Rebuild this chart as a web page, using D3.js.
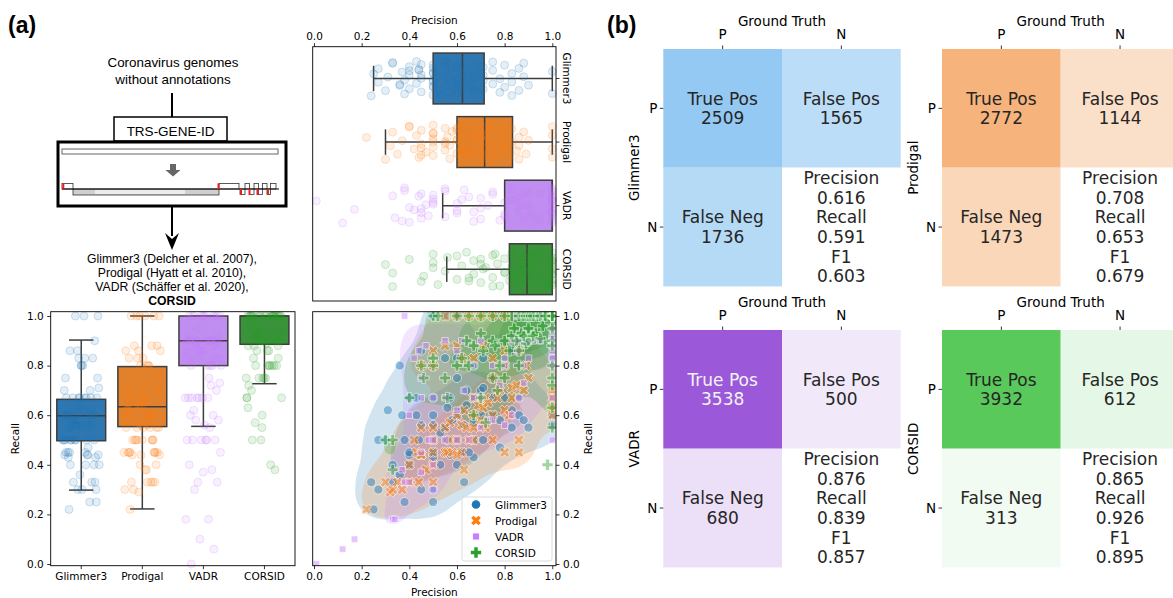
<!DOCTYPE html>
<html>
<head>
<meta charset="utf-8">
<script src="https://cdn.jsdelivr.net/npm/d3@7"></script>
<style>
body { margin: 0; background: #fff; }
svg { display: block; }
text { font-family: "DejaVu Sans", sans-serif; fill: #000; }
.arial { font-family: "Liberation Sans", Arial, sans-serif; }
</style>
</head>
<body>
<div id="fig"></div>
<script>
/////// DATA

const methods = ["Glimmer3", "Prodigal", "VADR", "CORSID"];
const hueColors = ["#1f77b4", "#ff7f0e", "#c77dff", "#2ca02c"];
const boxColors = ["#2f77b1", "#e1812c", "#c08ef0", "#3a923a"];

// box stats: [lower whisker, q1, median, q3, upper whisker]
const precisionBox = [
  [0.25, 0.50, 0.623, 0.714, 1.0],
  [0.30, 0.60, 0.716, 0.833, 1.0],
  [0.54, 0.80, 1.0, 1.0, 1.0],
  [0.557, 0.82, 0.894, 1.0, 1.0]
];
const recallBox = [
  [0.298, 0.497, 0.598, 0.664, 0.903],
  [0.222, 0.554, 0.634, 0.796, 1.0],
  [0.555, 0.80, 0.90, 1.0, 1.0],
  [0.727, 0.886, 1.0, 1.0, 1.0]
];

// [precision, recall] per genome
const glimmerPts = [
  [0.25,0.22],[0.24,0.33],[0.27,0.30],[0.27,0.50],[0.30,0.50],[0.31,0.62],[0.33,0.33],[0.36,0.80],
  [0.37,0.60],[0.38,0.25],[0.38,0.50],[0.40,0.44],[0.40,0.67],[0.40,0.40],[0.43,0.60],[0.43,0.67],
  [0.44,0.50],[0.45,0.44],[0.45,0.56],[0.50,0.25],[0.50,0.56],[0.50,0.43],[0.50,0.67],[0.50,0.60],
  [0.50,0.50],[0.53,0.40],[0.55,0.55],[0.56,0.50],[0.56,0.63],[0.57,0.67],[0.60,0.60],[0.60,0.50],
  [0.60,0.75],[0.62,0.62],[0.62,0.45],[0.63,0.56],[0.64,0.64],[0.64,0.70],[0.67,0.57],[0.67,0.67],
  [0.67,0.43],[0.67,0.80],[0.70,0.60],[0.70,0.70],[0.71,0.56],[0.71,0.71],[0.71,0.83],[0.71,0.50],
  [0.75,0.60],[0.75,0.67],[0.75,0.75],[0.78,0.47],[0.78,0.58],[0.80,0.67],[0.80,0.80],[0.83,0.55],
  [0.83,0.62],[0.83,0.86],[0.86,0.60],[0.86,0.67],[0.88,0.58],[0.88,0.90],[0.90,0.55],[1.0,0.60],
  [1.0,0.56],[0.50,1.0],[0.55,1.0],[0.60,1.0],[0.45,0.86],[0.55,0.83],[0.60,0.83],[0.44,0.44],
  [0.57,0.44],[0.63,0.33],[0.45,0.30],[0.50,0.30],[0.50,0.45],[0.53,0.53],[0.58,0.58],[0.60,0.40],
  [0.65,0.45],[0.67,0.50],[0.33,0.40],[0.36,0.36],[0.40,0.45]
];
const prodigalPts = [
  [0.22,0.22],[0.30,0.33],[0.32,0.29],[0.33,0.30],[0.35,0.33],[0.37,0.30],[0.40,0.40],[0.42,0.50],
  [0.43,0.45],[0.44,0.33],[0.45,0.55],[0.45,0.44],[0.47,0.38],[0.50,0.33],[0.50,0.45],[0.50,0.40],
  [0.50,0.55],[0.50,0.80],[0.50,0.50],[0.55,0.45],[0.55,0.55],[0.56,0.45],[0.57,0.50],[0.57,0.57],
  [0.58,0.45],[0.60,0.60],[0.60,0.50],[0.62,0.45],[0.62,0.56],[0.63,0.62],[0.64,0.55],[0.65,0.50],
  [0.67,0.55],[0.67,0.67],[0.67,0.60],[0.67,0.50],[0.69,0.64],[0.70,0.58],[0.71,0.56],[0.71,0.63],
  [0.72,0.55],[0.72,0.67],[0.73,0.65],[0.75,0.60],[0.75,0.50],[0.75,0.75],[0.77,0.67],[0.78,0.70],
  [0.80,0.45],[0.80,0.80],[0.80,0.62],[0.82,0.60],[0.83,0.67],[0.83,0.71],[0.85,0.72],[0.86,0.45],
  [0.86,0.50],[0.86,0.86],[0.88,0.70],[0.89,0.80],[0.90,0.75],[1.0,0.70],[1.0,0.63],[1.0,0.67],
  [1.0,0.60],[0.55,1.0],[0.60,1.0],[0.65,1.0],[0.70,1.0],[0.75,1.0],[0.80,1.0],[0.50,0.86],
  [0.45,0.80],[0.55,0.88],[0.60,0.88],[0.62,0.83],[0.67,0.83],[0.71,0.88],[0.75,0.83],[0.80,0.86],
  [0.63,0.38],[0.60,0.44],[0.40,0.33],[0.45,0.44]
];
const vadrPts = [
  [0.01,0.0],[0.12,0.06],[0.17,0.10],[0.33,0.18],[0.34,0.18],[0.50,0.30],[0.38,0.33],[0.45,0.37],
  [0.50,0.40],[0.37,0.38],[0.40,0.33],[0.45,0.45],[0.48,0.50],[0.50,0.50],[0.55,0.50],[0.60,0.50],
  [0.65,0.50],[0.70,0.55],[0.73,0.58],[0.75,0.58],[0.80,0.56],[0.83,0.60],[0.40,0.60],[0.45,0.67],
  [0.50,0.67],[0.55,0.67],[0.60,0.62],[0.63,0.70],[0.67,0.67],[0.70,0.67],[0.78,0.72],[0.86,0.67],
  [0.88,0.73],[1.0,0.50],[1.0,0.67],[0.38,1.0],[0.42,0.83],[0.44,0.86],[0.45,0.75],[0.47,0.88],
  [0.55,0.90],[0.60,0.86],[0.62,0.90],[0.67,0.80],[0.70,0.90],[0.75,0.80],[0.80,0.80],[0.80,0.83],
  [0.83,0.90],[0.86,0.86],[0.86,0.90],[0.88,0.80],[0.90,0.90],[0.90,0.83],[0.92,0.90],[1.0,0.80],
  [1.0,0.83],[1.0,0.86],[1.0,0.90],[1.0,0.90],[1.0,1.0],[1.0,1.0],[1.0,1.0],[1.0,1.0],
  [1.0,0.90],[1.0,0.95],[0.95,1.0],[0.90,1.0],[0.85,1.0],[1.0,0.88],[1.0,1.0],[1.0,0.83],
  [0.95,0.90],[0.89,0.89],[1.0,0.92],[1.0,1.0],[1.0,0.91],[0.93,1.0]
];
const corsidPts = [
  [0.30,0.50],[0.33,0.38],[0.33,0.50],[0.40,0.67],[0.45,0.80],[0.50,0.80],[0.50,0.83],[0.46,0.75],
  [0.50,1.0],[0.52,1.0],[0.55,0.75],[0.56,0.67],[0.60,0.80],[0.62,0.83],[0.64,0.90],[0.67,0.60],
  [0.67,0.88],[0.70,0.93],[0.71,0.86],[0.75,0.90],[0.75,0.75],[0.77,0.70],[0.78,0.80],[0.80,0.90],
  [0.80,0.75],[0.82,0.86],[0.83,0.92],[0.83,1.0],[0.85,0.90],[0.86,1.0],[0.86,0.80],[0.87,0.93],
  [0.88,1.0],[0.89,0.89],[0.89,1.0],[0.90,1.0],[0.90,0.90],[0.91,1.0],[0.92,1.0],[0.93,0.93],
  [0.94,1.0],[0.95,1.0],[1.0,1.0],[1.0,1.0],[1.0,1.0],[1.0,0.95],[1.0,0.90],[1.0,0.88],
  [1.0,0.80],[1.0,0.75],[1.0,0.72],[1.0,1.0],[1.0,1.0],[0.60,1.0],[0.65,1.0],[0.70,1.0],
  [0.75,1.0],[0.80,1.0],[0.70,0.67],[0.65,0.80],[0.72,0.57],[0.76,0.88],[0.84,0.95],[0.96,0.96],
  [0.97,1.0],[0.88,0.92],[0.92,0.92],[0.86,0.86],[0.90,0.95],[0.95,0.91],[1.0,0.55],[1.0,0.63],
  [0.98,0.40]
];
const allPts = [glimmerPts, prodigalPts, vadrPts, corsidPts];

// confusion matrices (panel b)
const truePos = [2509, 2772, 3538, 3932];
const falsePos = [1565, 1144, 500, 612];
const falseNeg = [1736, 1473, 680, 313];
const precisionVals = [0.616, 0.708, 0.876, 0.865];
const recallVals = [0.591, 0.653, 0.839, 0.926];
const f1Vals = [0.603, 0.679, 0.857, 0.895];
const cmColors = ["#93c9f2", "#f6b47c", "#9b59da", "#5ac95c"];
const cmLabels = ["P", "N"];

const toolLines = [
  ["Glimmer3 (Delcher et al. 2007),", false],
  ["Prodigal  (Hyatt et al. 2010),", false],
  ["VADR (Schäffer et al. 2020),", false],
  ["CORSID", true]
];

/////// SETUP

const W = 1173, H = 598;
const svg = d3.select("#fig").append("svg").attr("width", W).attr("height", H);
svg.append("rect").attr("width", W).attr("height", H).attr("fill", "#fff");

const fmt1 = d3.format(".1f");
const fmt3 = d3.format(".3f");
const tickVals = [0, 0.2, 0.4, 0.6, 0.8, 1.0];
const jit = i => ((i * 0.6180339887 + 0.37) % 1) * 2 - 1; // spread in [-1, 1]
const edge = "#3d3d3d";

function styleAxis(g, size) {
  g.select(".domain").remove();
  g.selectAll(".tick line").attr("stroke", "#000").attr("stroke-width", 0.8);
  g.selectAll(".tick text").attr("font-size", size).attr("font-family", "DejaVu Sans").attr("fill", "#000");
}
function frame(r) {
  svg.append("rect").attr("x", r.l).attr("y", r.t).attr("width", r.r - r.l).attr("height", r.b - r.t)
    .attr("fill", "none").attr("stroke", "#000").attr("stroke-width", 0.9);
}

/////// PANEL (a) DIAGRAM

svg.append("text").attr("class", "arial").attr("x", 8).attr("y", 33)
  .attr("font-size", 23).attr("font-weight", "bold").text("(a)");

const dg = svg.append("g");
dg.append("text").attr("class", "arial").attr("x", 173).attr("y", 67).attr("text-anchor", "middle")
  .attr("font-size", 13.4).text("Coronavirus genomes");
dg.append("text").attr("class", "arial").attr("x", 173).attr("y", 84).attr("text-anchor", "middle")
  .attr("font-size", 13.4).text("without annotations");
dg.append("line").attr("x1", 172).attr("x2", 172).attr("y1", 93).attr("y2", 117)
  .attr("stroke", "#000").attr("stroke-width", 2);
dg.append("rect").attr("x", 114).attr("y", 117).attr("width", 113).attr("height", 24)
  .attr("fill", "#fff").attr("stroke", "#000").attr("stroke-width", 1.5);
dg.append("text").attr("class", "arial").attr("x", 170.5).attr("y", 136).attr("text-anchor", "middle")
  .attr("font-size", 13.5).text("TRS-GENE-ID");
dg.append("rect").attr("x", 58).attr("y", 142).attr("width", 228).attr("height", 64)
  .attr("fill", "#fff").attr("stroke", "#000").attr("stroke-width", 3);
dg.append("rect").attr("x", 62).attr("y", 149).attr("width", 216).attr("height", 5)
  .attr("fill", "#fff").attr("stroke", "#666").attr("stroke-width", 1);
dg.append("rect").attr("x", 170).attr("y", 164).attr("width", 6).attr("height", 6).attr("fill", "#666");
dg.append("path").attr("d", "M165.5,170 L180.5,170 L173,176.5 Z").attr("fill", "#666");
// genome features
dg.append("rect").attr("x", 73).attr("y", 189).attr("width", 146).attr("height", 6)
  .attr("fill", "#cfcfcf").attr("stroke", "#333").attr("stroke-width", 0.8);
dg.append("rect").attr("x", 95).attr("y", 190).attr("width", 90).attr("height", 4).attr("fill", "#ececec");
const upperBoxes = [[62, 73], [219, 239], [245, 249.5], [254, 258.5], [262.5, 267], [270.5, 276]];
const lowerBoxes = [[240, 245], [249.5, 254], [258.5, 262.5], [267, 270.5]];
upperBoxes.forEach(b => dg.append("rect").attr("x", b[0]).attr("y", 183.5).attr("width", b[1] - b[0])
  .attr("height", 5.5).attr("fill", "#fff").attr("stroke", "#333").attr("stroke-width", 0.8));
lowerBoxes.forEach(b => dg.append("rect").attr("x", b[0]).attr("y", 189).attr("width", b[1] - b[0])
  .attr("height", 5.5).attr("fill", "#fff").attr("stroke", "#333").attr("stroke-width", 0.8));
dg.append("line").attr("x1", 62).attr("x2", 279).attr("y1", 189).attr("y2", 189)
  .attr("stroke", "#000").attr("stroke-width", 1);
[[62.3, 183.5], [217.5, 183.5], [240, 189], [248.5, 189], [256.5, 189], [267, 189]].forEach(r =>
  dg.append("rect").attr("x", r[0]).attr("y", r[1]).attr("width", 2).attr("height", 6).attr("fill", "#e8221a"));
dg.append("line").attr("x1", 172).attr("x2", 172).attr("y1", 207).attr("y2", 236)
  .attr("stroke", "#000").attr("stroke-width", 2);
dg.append("path").attr("d", "M165,233 L172,239 L179,233 L172,250 Z").attr("fill", "#000");
toolLines.forEach((t, k) => {
  dg.append("text").attr("class", "arial").attr("x", 172).attr("y", 262.5 + k * 14.2)
    .attr("text-anchor", "middle").attr("font-size", 12.2)
    .attr("font-weight", t[1] ? "bold" : "normal").text(t[0]);
});

/////// TOP RIGHT: PRECISION BOXPLOT

const pr = { l: 312.7, r: 556, t: 46.7, b: 301 };
const px = d3.scaleLinear().domain([0, 1]).range([314, 552.3]);
const pBand = d3.scaleBand().domain(methods).range([pr.t, pr.b]);
const gP = svg.append("g");

methods.forEach((m, i) => {
  const s = precisionBox[i], c = pBand(m) + pBand.bandwidth() / 2, bw = pBand.bandwidth() * 0.8;
  const ln = (x1, x2, y1, y2) => gP.append("line").attr("x1", x1).attr("x2", x2).attr("y1", y1).attr("y2", y2)
    .attr("stroke", edge).attr("stroke-width", 1.5);
  ln(px(s[0]), px(s[1]), c, c);
  ln(px(s[3]), px(s[4]), c, c);
  ln(px(s[0]), px(s[0]), c - bw / 4, c + bw / 4);
  ln(px(s[4]), px(s[4]), c - bw / 4, c + bw / 4);
  gP.append("rect").attr("x", px(s[1])).attr("y", c - bw / 2).attr("width", px(s[3]) - px(s[1]))
    .attr("height", bw).attr("fill", boxColors[i]).attr("stroke", edge).attr("stroke-width", 1.5);
  ln(px(s[2]), px(s[2]), c - bw / 2, c + bw / 2);
  gP.selectAll(null).data(allPts[i]).join("circle")
    .attr("cx", d => px(d[0]))
    .attr("cy", (d, j) => c + jit(j) * pBand.bandwidth() * 0.28)
    .attr("r", 4)
    .attr("fill", hueColors[i]).attr("fill-opacity", 0.12)
    .attr("stroke", hueColors[i]).attr("stroke-opacity", 0.25).attr("stroke-width", 0.8);
});
frame(pr);
const axPTop = svg.append("g").attr("transform", `translate(0,${pr.t})`)
  .call(d3.axisTop(px).tickValues(tickVals).tickFormat(fmt1).tickSize(3.5).tickPadding(3.5));
styleAxis(axPTop, 10.5);
svg.append("text").attr("x", (pr.l + pr.r) / 2).attr("y", 24).attr("text-anchor", "middle")
  .attr("font-size", 10.5).text("Precision");
methods.forEach(m => {
  const c = pBand(m) + pBand.bandwidth() / 2;
  svg.append("line").attr("x1", pr.r).attr("x2", pr.r + 3.5).attr("y1", c).attr("y2", c)
    .attr("stroke", "#000").attr("stroke-width", 0.8);
  svg.append("text").attr("transform", `translate(${pr.r + 7},${c}) rotate(90)`)
    .attr("text-anchor", "middle").attr("font-size", 10.5).text(m);
});

/////// BOTTOM LEFT: RECALL BOXPLOT

const rr = { l: 50.7, r: 295, t: 311.7, b: 565.7 };
const ry = d3.scaleLinear().domain([0, 1]).range([564, 316]);
const rBand = d3.scaleBand().domain(methods).range([rr.l, rr.r]);
const gR = svg.append("g");

methods.forEach((m, i) => {
  const s = recallBox[i], c = rBand(m) + rBand.bandwidth() / 2, bw = rBand.bandwidth() * 0.8;
  const ln = (x1, x2, y1, y2) => gR.append("line").attr("x1", x1).attr("x2", x2).attr("y1", y1).attr("y2", y2)
    .attr("stroke", edge).attr("stroke-width", 1.5);
  ln(c, c, ry(s[0]), ry(s[1]));
  ln(c, c, ry(s[3]), ry(s[4]));
  ln(c - bw / 4, c + bw / 4, ry(s[0]), ry(s[0]));
  ln(c - bw / 4, c + bw / 4, ry(s[4]), ry(s[4]));
  gR.append("rect").attr("x", c - bw / 2).attr("y", ry(s[3])).attr("width", bw)
    .attr("height", ry(s[1]) - ry(s[3])).attr("fill", boxColors[i]).attr("stroke", edge).attr("stroke-width", 1.5);
  ln(c - bw / 2, c + bw / 2, ry(s[2]), ry(s[2]));
  gR.selectAll(null).data(allPts[i]).join("circle")
    .attr("cx", (d, j) => c + jit(j + 11) * rBand.bandwidth() * 0.3)
    .attr("cy", d => ry(d[1]))
    .attr("r", 4)
    .attr("fill", hueColors[i]).attr("fill-opacity", 0.12)
    .attr("stroke", hueColors[i]).attr("stroke-opacity", 0.25).attr("stroke-width", 0.8);
});
frame(rr);
const axRL = svg.append("g").attr("transform", `translate(${rr.l},0)`)
  .call(d3.axisLeft(ry).tickValues(tickVals).tickFormat(fmt1).tickSize(3.5).tickPadding(3.5));
styleAxis(axRL, 10.5);
const axRB = svg.append("g").attr("transform", `translate(0,${rr.b})`)
  .call(d3.axisBottom(rBand).tickSize(3.5).tickPadding(3.5));
styleAxis(axRB, 10.5);
svg.append("text").attr("transform", `translate(19,${(rr.t + rr.b) / 2}) rotate(-90)`)
  .attr("text-anchor", "middle").attr("font-size", 10.5).text("Recall");

/////// BOTTOM RIGHT: SCATTER + KDE

const sr = { l: 312.7, r: 556, t: 311.7, b: 565.7 };
const sx = d3.scaleLinear().domain([0, 1]).range([314, 552.3]);
const sy = d3.scaleLinear().domain([0, 1]).range([564, 316]);
svg.append("clipPath").attr("id", "sclip").append("rect")
  .attr("x", sr.l).attr("y", sr.t).attr("width", sr.r - sr.l).attr("height", sr.b - sr.t);
const gS = svg.append("g").attr("clip-path", "url(#sclip)");

const density = d3.contourDensity()
  .x(d => sx(d[0]) - sr.l).y(d => sy(d[1]) - sr.t)
  .size([sr.r - sr.l, sr.b - sr.t]).bandwidth(17).cellSize(2);
const levelSets = [
  [0.12, 0.5],
  [0.12, 0.5],
  [0.12, 0.5],
  [0.1, 0.28, 0.46, 0.64, 0.82]
];
const levelOpacity = [0.2, 0.2, 0.2, 0.26];
allPts.forEach((pts, i) => {
  const cont = density.contours(pts);
  const gk = gS.append("g").attr("transform", `translate(${sr.l},${sr.t})`);
  levelSets[i].forEach(f => {
    gk.append("path").attr("d", d3.geoPath()(cont(cont.max * f)))
      .attr("fill", hueColors[i]).attr("fill-opacity", levelOpacity[i]).attr("stroke", "none");
  });
});

const symTypes = [d3.symbolCircle, d3.symbolCross, d3.symbolSquare, d3.symbolCross];
const symSizes = [64, 66, 42, 66];
const symRot = [0, 45, 0, 0];
allPts.forEach((pts, i) => {
  const sym = d3.symbol(symTypes[i], symSizes[i]);
  gS.selectAll(null).data(pts).join("path")
    .attr("d", sym)
    .attr("transform", d => `translate(${sx(d[0])},${sy(d[1])}) rotate(${symRot[i]})`)
    .attr("fill", hueColors[i]).attr("fill-opacity", 0.45)
    .attr("stroke", "#fff").attr("stroke-opacity", 0.7).attr("stroke-width", 0.8);
});
frame(sr);
const axSB = svg.append("g").attr("transform", `translate(0,${sr.b})`)
  .call(d3.axisBottom(sx).tickValues(tickVals).tickFormat(fmt1).tickSize(3.5).tickPadding(3.5));
styleAxis(axSB, 10.5);
const axSR = svg.append("g").attr("transform", `translate(${sr.r},0)`)
  .call(d3.axisRight(sy).tickValues(tickVals).tickFormat(fmt1).tickSize(3.5).tickPadding(3.5));
styleAxis(axSR, 10.5);
svg.append("text").attr("x", (sr.l + sr.r) / 2).attr("y", 596).attr("text-anchor", "middle")
  .attr("font-size", 10.5).text("Precision");
svg.append("text").attr("transform", `translate(592,${(sr.t + sr.b) / 2}) rotate(-90)`)
  .attr("text-anchor", "middle").attr("font-size", 10.5).text("Recall");

// legend
const lg = svg.append("g").attr("transform", "translate(462,497)");
lg.append("rect").attr("width", 90).attr("height", 64).attr("rx", 2.5)
  .attr("fill", "#fff").attr("fill-opacity", 0.85).attr("stroke", "#d0d0d0").attr("stroke-width", 0.8);
methods.forEach((m, i) => {
  const yy = 7.5 + i * 16;
  lg.append("path").attr("d", d3.symbol(symTypes[i], symSizes[i] * 0.9))
    .attr("transform", `translate(14,${yy}) rotate(${symRot[i]})`).attr("fill", hueColors[i]);
  lg.append("text").attr("x", 33).attr("y", yy + 4).attr("font-size", 10.5).text(m);
});

/////// PANEL (b) CONFUSION MATRICES

svg.append("text").attr("class", "arial").attr("x", 607).attr("y", 33)
  .attr("font-size", 23).attr("font-weight", "bold").text("(b)");

const cmPos = [[663.3, 49], [942, 49], [663.3, 330], [942, 330]];
const cell = 118.7;

methods.forEach((m, i) => {
  const [x0, y0] = cmPos[i];
  const g = svg.append("g");
  const col = d3.scaleLinear().domain([0, truePos[i]]).range(["#ffffff", cmColors[i]]);
  const cx = d3.scaleBand().domain(cmLabels).range([x0, x0 + 2 * cell]);
  const cy = d3.scaleBand().domain(cmLabels).range([y0, y0 + 2 * cell]);
  const cells = [
    { r: "P", c: "P", v: truePos[i], lines: ["True Pos", truePos[i]] },
    { r: "P", c: "N", v: falsePos[i], lines: ["False Pos", falsePos[i]] },
    { r: "N", c: "P", v: falseNeg[i], lines: ["False Neg", falseNeg[i]] },
    { r: "N", c: "N", v: 0, lines: ["Precision", fmt3(precisionVals[i]), "Recall", fmt3(recallVals[i]), "F1", fmt3(f1Vals[i])] }
  ];
  cells.forEach(d => {
    g.append("rect").attr("x", cx(d.c)).attr("y", cy(d.r)).attr("width", cell).attr("height", cell)
      .attr("fill", col(d.v));
    const tc = (d.v === truePos[i] && i === 2) ? "#f2f2f2" : "#262626";
    const n = d.lines.length;
    d.lines.forEach((t, k) => {
      g.append("text").attr("x", cx(d.c) + cell / 2)
        .attr("y", cy(d.r) + cell / 2 + (k - (n - 1) / 2) * 19.6)
        .attr("dy", "0.36em").attr("text-anchor", "middle").attr("font-size", 17)
        .style("fill", tc).text(t);
    });
  });
  // axes
  cmLabels.forEach(l => {
    const xc = cx(l) + cell / 2, yc = cy(l) + cell / 2;
    g.append("line").attr("x1", xc).attr("x2", xc).attr("y1", y0).attr("y2", y0 - 3.5)
      .attr("stroke", "#000").attr("stroke-width", 0.8);
    g.append("text").attr("x", xc).attr("y", y0 - 10).attr("text-anchor", "middle").attr("font-size", 13.5).text(l);
    g.append("line").attr("x1", x0).attr("x2", x0 - 3.5).attr("y1", yc).attr("y2", yc)
      .attr("stroke", "#000").attr("stroke-width", 0.8);
    g.append("text").attr("x", x0 - 6).attr("y", yc).attr("dy", "0.36em").attr("text-anchor", "end")
      .attr("font-size", 13.5).text(l);
  });
  g.append("text").attr("x", x0 + cell).attr("y", y0 - 23).attr("text-anchor", "middle")
    .attr("font-size", 13.5).text("Ground Truth");
  g.append("text").attr("transform", `translate(${x0 - 24},${y0 + cell}) rotate(-90)`)
    .attr("text-anchor", "middle").attr("font-size", 13.5).text(m);
});
</script>
</body>
</html>
